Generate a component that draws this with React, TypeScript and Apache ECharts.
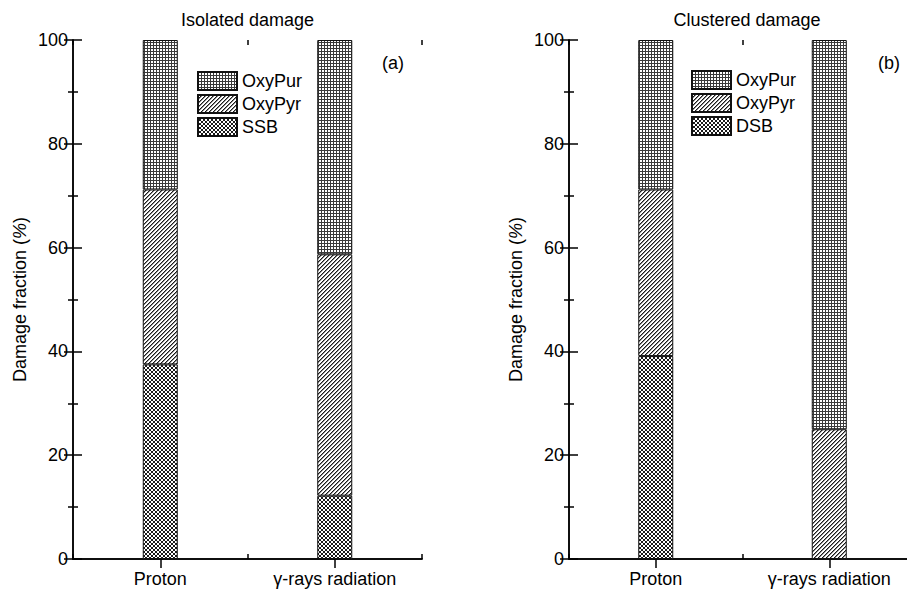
import React, { useEffect, useRef } from "react";
import * as echarts from "echarts";

const categories = ["Proton", "γ-rays radiation"];
const isoSSB = [37.5, 12.2];
const isoOxyPyr = [33.7, 46.5];
const isoOxyPur = [28.8, 41.3];
const cluDSB = [39.1, 0];
const cluOxyPyr = [32.1, 25.0];
const cluOxyPur = [28.8, 75.0];
const panelTitles = ["Isolated damage", "Clustered damage"];
const panelTags = ["(a)", "(b)"];
const legendA = ["OxyPur", "OxyPyr", "SSB"];
const legendB = ["OxyPur", "OxyPyr", "DSB"];
const yMin = 0;
const yMax = 100;
const yInterval = 20;

const FONT = "'Liberation Sans', Arial, sans-serif";

function makeTile(size: number, draw: (ctx: CanvasRenderingContext2D) => void) {
  const c = document.createElement("canvas");
  c.width = size;
  c.height = size;
  const ctx = c.getContext("2d")!;
  ctx.fillStyle = "#ffffff";
  ctx.fillRect(0, 0, size, size);
  draw(ctx);
  return c;
}

export default function App() {
  const ref = useRef<HTMLDivElement>(null);
  useEffect(() => {
    document.body.style.margin = "0";
    const chart = echarts.init(ref.current!, null, { renderer: "svg" });

    const gridTile = makeTile(3, (ctx) => {
      ctx.fillStyle = "#3a3a3a";
      ctx.fillRect(0, 0, 3, 1);
      ctx.fillRect(0, 0, 1, 3);
    });
    const diagTile = makeTile(4, (ctx) => {
      for (let i = 0; i < 4; i++) {
        ctx.fillStyle = "#1a1a1a";
        ctx.fillRect(i, 3 - i, 1, 1);
        ctx.fillStyle = "#8a8a8a";
        ctx.fillRect((i + 1) % 4, 3 - i, 1, 1);
      }
    });
    const crossTile = makeTile(4, (ctx) => {
      ctx.fillStyle = "#1a1a1a";
      for (let i = 0; i < 4; i++) {
        ctx.fillRect(i, i, 1, 1);
        ctx.fillRect(i, 3 - i, 1, 1);
      }
    });
    const pat = (img: HTMLCanvasElement) => ({ image: img, repeat: "repeat" });
    const styleOf = (img: HTMLCanvasElement) => ({
      color: pat(img) as any,
      borderColor: "#111",
      borderWidth: 1,
    });

    const grids = [
      { left: 73, top: 40, width: 349, height: 519, outerBoundsMode: "none", containLabel: false },
      { left: 569, top: 40, width: 347, height: 519, outerBoundsMode: "none", containLabel: false },
    ];

    const lineStyle = { color: "#000", width: 1.5 };
    const xAxes: any[] = [];
    const yAxes: any[] = [];
    [0, 1].forEach((g) => {
      xAxes.push({
        type: "category",
        gridIndex: g,
        data: categories,
        position: "bottom",
        offset: 0,
        boundaryGap: true,
        axisLine: { show: true, lineStyle },
        axisTick: { show: true, alignWithLabel: true, inside: true, length: 9, lineStyle },
        axisLabel: { show: true, color: "#000", fontSize: 18, fontFamily: FONT, margin: 11 },
        splitLine: { show: false },
      });
      xAxes.push({
        type: "category",
        gridIndex: g,
        data: categories,
        position: "top",
        offset: 0,
        boundaryGap: true,
        axisLine: { show: true, lineStyle },
        axisTick: { show: true, alignWithLabel: true, inside: true, length: 9, lineStyle },
        axisLabel: { show: false },
        splitLine: { show: false },
      });
      xAxes.push({
        type: "value",
        gridIndex: g,
        min: 0,
        max: 2,
        interval: 1,
        position: "bottom",
        offset: 0,
        axisLine: { show: false },
        axisTick: { show: true, inside: true, length: 5, lineStyle },
        axisLabel: { show: false },
        splitLine: { show: false },
      });
      xAxes.push({
        type: "value",
        gridIndex: g,
        min: 0,
        max: 2,
        interval: 1,
        position: "top",
        offset: 0,
        axisLine: { show: false },
        axisTick: { show: true, inside: true, length: 5, lineStyle },
        axisLabel: { show: false },
        splitLine: { show: false },
      });
      yAxes.push({
        type: "value",
        gridIndex: g,
        min: yMin,
        max: yMax,
        interval: yInterval,
        position: "left",
        offset: 0,
        name: "Damage fraction ({it|%})",
        nameLocation: "middle",
        nameGap: 44,
        nameTextStyle: {
          color: "#000",
          fontSize: 18,
          fontFamily: FONT,
          rich: { it: { fontStyle: "italic", fontSize: 18, fontFamily: FONT, color: "#000" } },
        },
        axisLine: { show: true, lineStyle },
        axisTick: { show: true, inside: true, length: 9, lineStyle },
        minorTick: { show: true, splitNumber: 2, length: 5, lineStyle },
        axisLabel: { show: true, color: "#000", fontSize: 18, fontFamily: FONT, margin: 5 },
        splitLine: { show: false },
        minorSplitLine: { show: false },
      });
      yAxes.push({
        type: "value",
        gridIndex: g,
        min: yMin,
        max: yMax,
        interval: yInterval,
        position: "right",
        offset: 0,
        axisLine: { show: true, lineStyle },
        axisTick: { show: true, inside: true, length: 9, lineStyle },
        minorTick: { show: true, splitNumber: 2, length: 5, lineStyle },
        axisLabel: { show: false },
        splitLine: { show: false },
        minorSplitLine: { show: false },
      });
    });

    const bar = (name: string, data: number[], g: number, img: HTMLCanvasElement) => ({
      type: "bar",
      name,
      data,
      xAxisIndex: g * 4,
      yAxisIndex: g * 2,
      stack: "s" + g,
      barWidth: 35,
      itemStyle: styleOf(img),
      emphasis: { disabled: true },
    });

    const legendCommon = {
      orient: "vertical",
      itemWidth: 39,
      itemHeight: 18,
      itemGap: 3,
      padding: 0,
      selectedMode: false,
      icon: "rect",
      textStyle: { color: "#000", fontSize: 18, fontFamily: FONT },
    };

    const graphics: any[] = [];
    grids.forEach((gr, i) => {
      graphics.push({
        type: "text",
        x: i === 0 ? gr.left + gr.width / 2 : 747,
        y: 11,
        style: {
          text: panelTitles[i],
          fontSize: 18,
          fontFamily: FONT,
          fill: "#000",
          align: "center",
          verticalAlign: "top",
        },
      });
    });
    graphics.push({
      type: "text",
      x: 382,
      y: 54,
      style: { text: panelTags[0], fontSize: 18, fontFamily: FONT, fill: "#000", align: "left", verticalAlign: "top" },
    });
    graphics.push({
      type: "text",
      x: 878,
      y: 54,
      style: { text: panelTags[1], fontSize: 18, fontFamily: FONT, fill: "#000", align: "left", verticalAlign: "top" },
    });

    chart.setOption({
      animation: false,
      backgroundColor: "#ffffff",
      grid: grids,
      xAxis: xAxes,
      yAxis: yAxes,
      legend: [
        { ...legendCommon, data: legendA, left: 197, top: 71 },
        { ...legendCommon, data: legendB, left: 691, top: 70 },
      ],
      series: [
        bar("SSB", isoSSB, 0, crossTile),
        bar("OxyPyr", isoOxyPyr, 0, diagTile),
        bar("OxyPur", isoOxyPur, 0, gridTile),
        bar("DSB", cluDSB, 1, crossTile),
        bar("OxyPyr", cluOxyPyr, 1, diagTile),
        bar("OxyPur", cluOxyPur, 1, gridTile),
      ],
      graphic: graphics,
    });
    return () => chart.dispose();
  }, []);
  return <div ref={ref} style={{ width: 907, height: 590 }} />;
}
